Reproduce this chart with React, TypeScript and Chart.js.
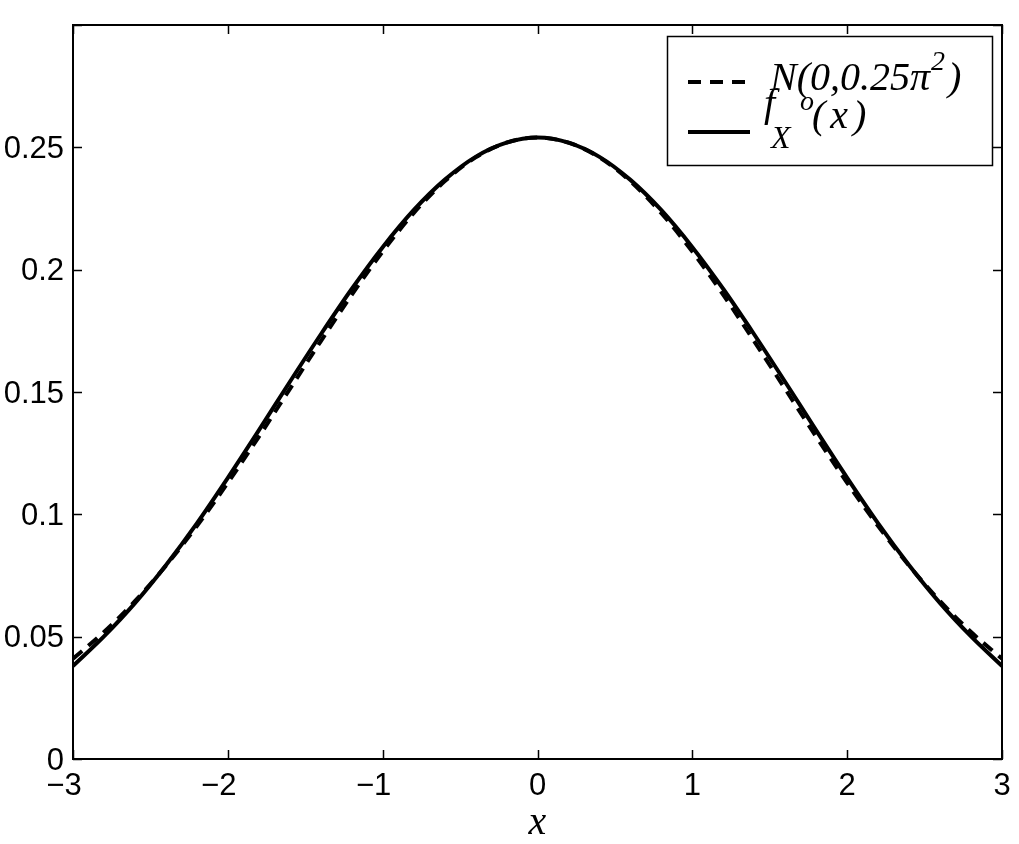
import React, { useEffect, useRef } from "react";
import { Chart, registerables } from "chart.js";

Chart.register(...registerables);

const xValues = [
  -3, -2.8, -2.6, -2.4, -2.2, -2, -1.8, -1.6, -1.4, -1.2, -1, -0.8, -0.6, -0.4, -0.2, 0,
  0.2, 0.4, 0.6, 0.8, 1, 1.2, 1.4, 1.6, 1.8, 2, 2.2, 2.4, 2.6, 2.8, 3,
];
const normalValues = [
  0.041, 0.0519, 0.0645, 0.079, 0.0952, 0.1129, 0.1317, 0.1512, 0.1707, 0.1897, 0.2074, 0.2231, 0.2361, 0.2459, 0.2519, 0.254,
  0.2519, 0.2459, 0.2361, 0.2231, 0.2074, 0.1897, 0.1707, 0.1512, 0.1317, 0.1129, 0.0952, 0.079, 0.0645, 0.0519, 0.041,
];
const fxValues = [
  0.038, 0.0501, 0.0637, 0.0792, 0.0963, 0.1149, 0.1343, 0.1541, 0.1735, 0.1921, 0.2092, 0.2243, 0.2367, 0.2461, 0.2519, 0.254,
  0.2519, 0.2461, 0.2367, 0.2243, 0.2092, 0.1921, 0.1735, 0.1541, 0.1343, 0.1149, 0.0963, 0.0792, 0.0637, 0.0501, 0.038,
];
const xTickValues = [-3, -2, -1, 0, 1, 2, 3];
const xTickLabels = ["−3", "−2", "−1", "0", "1", "2", "3"];
const yTickValues = [0, 0.05, 0.1, 0.15, 0.2, 0.25, 0.3];
const yTickLabels = ["0", "0.05", "0.1", "0.15", "0.2", "0.25", ""];
const xAxisTitle = "x";

const SANS = '"Liberation Sans", Arial, sans-serif';
const SERIF = '"Liberation Serif", "Times New Roman", serif';

const decorPlugin = {
  id: "decor",
  afterDatasetsDraw(chart: any) {
    const { ctx, chartArea: a, scales } = chart;
    const xs = scales.x;
    const ys = scales.y;
    ctx.save();
    ctx.strokeStyle = "#000";
    ctx.fillStyle = "#000";
    ctx.setLineDash([]);
    // box
    ctx.lineWidth = 2;
    ctx.strokeRect(a.left, a.top, a.right - a.left, a.bottom - a.top);
    // inward ticks
    ctx.lineWidth = 1.5;
    ctx.beginPath();
    const tl = 9;
    xTickValues.forEach((v) => {
      const px = Math.round(xs.getPixelForValue(v)) + 0.5;
      ctx.moveTo(px, a.bottom);
      ctx.lineTo(px, a.bottom - tl);
      ctx.moveTo(px, a.top);
      ctx.lineTo(px, a.top + tl);
    });
    yTickValues.forEach((v) => {
      const py = Math.round(ys.getPixelForValue(v)) + 0.5;
      ctx.moveTo(a.left, py);
      ctx.lineTo(a.left + tl, py);
      ctx.moveTo(a.right, py);
      ctx.lineTo(a.right - tl, py);
    });
    ctx.stroke();

    // tick labels
    ctx.font = `31px ${SANS}`;
    ctx.textAlign = "right";
    ctx.textBaseline = "middle";
    yTickValues.forEach((v, i) => {
      const py = ys.getPixelForValue(v);
      ctx.fillText(yTickLabels[i], a.left - 9, py + 2);
    });
    ctx.textAlign = "left";
    ctx.textBaseline = "alphabetic";
    xTickValues.forEach((v, i) => {
      const px = xs.getPixelForValue(v);
      const label = xTickLabels[i];
      const neg = label.startsWith("−");
      const num = neg ? label.slice(1) : label;
      const w = ctx.measureText(num).width;
      const m = neg ? ctx.measureText("−").width : 0;
      ctx.fillText(label, px - w / 2 - m, a.bottom + 36);
    });

    // axis title
    ctx.font = `italic 40px ${SERIF}`;
    ctx.textAlign = "center";
    ctx.fillText(xAxisTitle, (a.left + a.right) / 2, a.bottom + 75);

    // legend
    const L = a.right - 335;
    const T = a.top + 11;
    const W = 325;
    const H = 129;
    ctx.fillStyle = "#fff";
    ctx.fillRect(L, T, W, H);
    ctx.fillStyle = "#000";
    ctx.lineWidth = 1.5;
    ctx.strokeRect(L + 0.5, T + 0.5, W, H);

    ctx.lineWidth = 4;
    ctx.setLineDash([13, 9]);
    ctx.beginPath();
    ctx.moveTo(L + 21, T + 46);
    ctx.lineTo(L + 83, T + 46);
    ctx.stroke();
    ctx.setLineDash([]);
    ctx.beginPath();
    ctx.moveTo(L + 21, T + 96);
    ctx.lineTo(L + 83, T + 96);
    ctx.stroke();

    ctx.textAlign = "left";
    ctx.textBaseline = "alphabetic";
    // N(0,0.25π^2)
    ctx.font = `italic 40px ${SERIF}`;
    let x = L + 103;
    const t1 = "N(0,0.25π";
    ctx.fillText(t1, x, T + 54);
    x += ctx.measureText(t1).width + 1;
    ctx.font = `italic 28px ${SERIF}`;
    ctx.fillText("2", x, T + 34);
    x += ctx.measureText("2").width + 3;
    ctx.font = `italic 40px ${SERIF}`;
    ctx.fillText(")", x, T + 54);

    // f_X^o(x)
    ctx.font = `italic 40px ${SERIF}`;
    ctx.fillText("f", L + 97, T + 80);
    ctx.font = `italic 32px ${SERIF}`;
    ctx.fillText("X", L + 104, T + 112);
    ctx.font = `italic 28px ${SERIF}`;
    ctx.fillText("o", L + 133, T + 74);
    ctx.font = `italic 40px ${SERIF}`;
    try {
      (ctx as any).letterSpacing = "5px";
    } catch (e) {}
    ctx.fillText("(x)", L + 145, T + 92);
    try {
      (ctx as any).letterSpacing = "0px";
    } catch (e) {}

    ctx.restore();
  },
};

export default function App() {
  const canvasRef = useRef<HTMLCanvasElement | null>(null);

  useEffect(() => {
    const canvas = canvasRef.current;
    if (!canvas) return;
    const chart = new Chart(canvas, {
      type: "line",
      data: {
        datasets: [
          {
            label: "N(0,0.25π²)",
            data: xValues.map((x, i) => ({ x, y: normalValues[i] })),
            borderColor: "#000",
            borderWidth: 4,
            borderDash: [12, 8],
            pointRadius: 0,
            fill: false,
            cubicInterpolationMode: "monotone",
            order: 1,
          },
          {
            label: "f_X^o(x)",
            data: xValues.map((x, i) => ({ x, y: fxValues[i] })),
            borderColor: "#000",
            borderWidth: 4,
            pointRadius: 0,
            fill: false,
            cubicInterpolationMode: "monotone",
            order: 0,
          },
        ],
      },
      options: {
        animation: false,
        responsive: false,
        maintainAspectRatio: false,
        devicePixelRatio: 1,
        layout: { padding: { top: 25, right: 17, left: 0, bottom: 0 } },
        plugins: {
          legend: { display: false },
          tooltip: { enabled: false },
        },
        scales: {
          x: {
            type: "linear",
            min: -3,
            max: 3,
            grid: { display: false },
            border: { display: false },
            ticks: { display: false },
            afterFit: (s: any) => {
              s.height = 85;
            },
          },
          y: {
            type: "linear",
            min: 0,
            max: 0.3,
            grid: { display: false },
            border: { display: false },
            ticks: { display: false },
            afterFit: (s: any) => {
              s.width = 73;
            },
          },
        },
      },
      plugins: [decorPlugin],
    } as any);
    return () => chart.destroy();
  }, []);

  return (
    <div style={{ position: "fixed", left: 0, top: 0, width: 1019, height: 844, background: "#fff" }}>
      <canvas ref={canvasRef} width={1019} height={844} style={{ width: 1019, height: 844, display: "block" }} />
    </div>
  );
}
